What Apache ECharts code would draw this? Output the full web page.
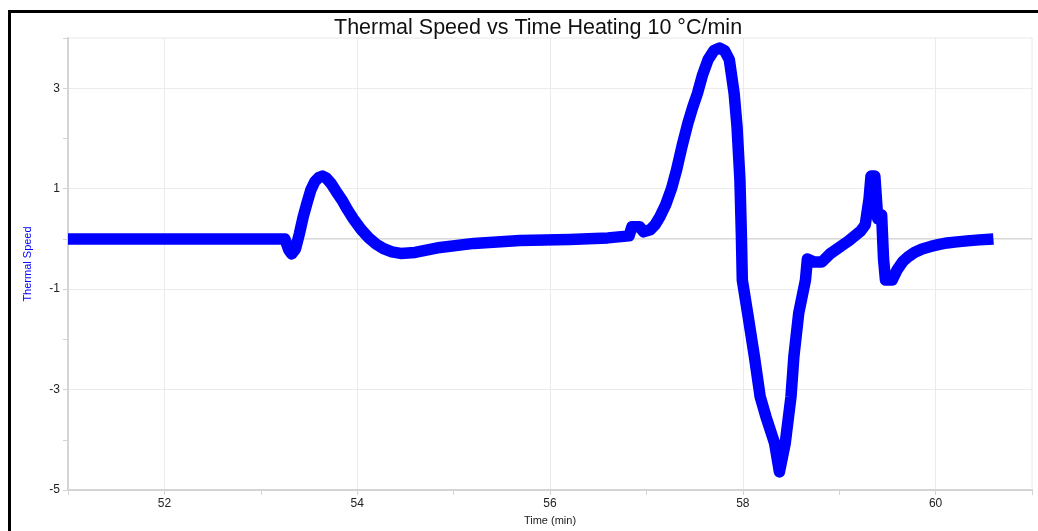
<!DOCTYPE html>
<html>
<head>
<meta charset="utf-8">
<title>Thermal Speed vs Time</title>
<script src="https://cdn.jsdelivr.net/npm/echarts@6/dist/echarts.min.js"></script>
<style>
  html, body { margin: 0; padding: 0; background: #ffffff; }
  #chart { width: 1038px; height: 531px; }
</style>
</head>
<body>
<div id="chart"></div>
<script>
// Time in minutes
const time = [
  51.00, 52.00, 53.00, 53.25, 53.29, 53.32, 53.36, 53.40, 53.44, 53.48,
  53.52, 53.56, 53.60, 53.64, 53.68, 53.73, 53.78, 53.84, 53.90, 53.96,
  54.04, 54.12, 54.20, 54.28, 54.36, 54.45, 54.60, 54.86, 55.21, 55.69,
  56.20, 56.60, 56.82, 56.85, 56.93, 56.97, 57.04, 57.09, 57.14, 57.20,
  57.26, 57.31, 57.37, 57.43, 57.48, 57.53, 57.58, 57.64, 57.70, 57.76,
  57.81, 57.86, 57.91, 57.94, 57.97, 57.985, 57.995, 58.05, 58.12, 58.18,
  58.24, 58.33, 58.38, 58.44, 58.50, 58.53, 58.58, 58.65, 58.67, 58.74,
  58.82, 58.91, 59.09, 59.22, 59.27, 59.31, 59.33, 59.37, 59.40, 59.44,
  59.46, 59.48, 59.55, 59.60, 59.66, 59.72, 59.78, 59.86, 59.95, 60.04,
  60.12, 60.22, 60.33, 60.45, 60.60
];

// Thermal speed readings
const thermalSpeed = [
   0.00,  0.00,  0.00,  0.00, -0.22, -0.30, -0.20,  0.10,  0.44,  0.72,
   0.98,  1.14,  1.22,  1.25,  1.21,  1.10,  0.95,  0.78,  0.58,  0.40,
   0.19,  0.02, -0.11, -0.20, -0.26, -0.29, -0.27, -0.17, -0.09, -0.03,
  -0.01,  0.02,  0.06,  0.24,  0.24,  0.14,  0.18,  0.28,  0.44,  0.68,
   1.00,  1.35,  1.85,  2.30,  2.62,  2.90,  3.25,  3.57,  3.75,  3.80,
   3.75,  3.57,  2.90,  2.24,  1.18,  0.10, -0.82, -1.48, -2.34, -3.14,
  -3.54, -4.07, -4.64, -4.07, -3.14, -2.34, -1.48, -0.82, -0.40, -0.46,
  -0.46, -0.29, -0.05,  0.15,  0.28,  0.80,  1.25,  1.25,  0.40,  0.48,
  -0.40, -0.82, -0.82, -0.62, -0.45, -0.35, -0.27, -0.20, -0.15, -0.11,
  -0.08, -0.06, -0.04, -0.02,  0.00
];

// Axis ranges and labelled ticks
const timeRange = [51, 61];
const speedRange = [-5, 4];
const timeTickLabels = [52, 54, 56, 58, 60];
const speedTickLabels = [-5, -3, -1, 1, 3];
const zeroLine = [[51, 0], [61, 0]];

const FONT = '"Liberation Sans", Arial, Helvetica, sans-serif';
const chart = echarts.init(document.getElementById('chart'), null, { renderer: 'canvas' });

chart.setOption({
  backgroundColor: '#ffffff',
  animation: false,
  title: {
    text: 'Thermal Speed vs Time Heating 10 °C/min',
    left: 329,
    top: 12,
    textStyle: { fontFamily: FONT, fontSize: 21.5, fontWeight: 'normal', color: '#111111' }
  },
  grid: {
    left: 68, right: 6, top: 38, bottom: 41,
    show: true, borderColor: '#e8e8e8', borderWidth: 1
  },
  xAxis: {
    type: 'value',
    min: timeRange[0], max: timeRange[1], interval: 1,
    name: 'Time (min)',
    nameLocation: 'middle',
    nameGap: 25,
    nameTextStyle: { fontFamily: FONT, fontSize: 11, color: '#222222' },
    axisLine: { onZero: false, lineStyle: { color: '#d4d4d4', width: 2 } },
    axisTick: { show: true, length: 5, lineStyle: { color: '#d4d4d4' } },
    axisLabel: {
      fontFamily: FONT, fontSize: 12, color: '#222222', margin: 8,
      formatter: v => (timeTickLabels.includes(v) ? String(v) : '')
    },
    splitLine: { show: true, lineStyle: { color: ['rgba(0,0,0,0)', '#ebebeb'], width: 1 } }
  },
  yAxis: {
    type: 'value',
    min: speedRange[0], max: speedRange[1], interval: 1,
    name: 'Thermal Speed',
    nameLocation: 'middle',
    nameGap: 35,
    nameTextStyle: { fontFamily: FONT, fontSize: 11, color: '#0000ff' },
    axisLine: { show: true, lineStyle: { color: '#d4d4d4', width: 2 } },
    axisTick: { show: true, length: 5, lineStyle: { color: '#d4d4d4' } },
    axisLabel: {
      fontFamily: FONT, fontSize: 12, color: '#222222', margin: 8,
      formatter: v => (speedTickLabels.includes(v) ? String(v) : '')
    },
    splitLine: { show: true, lineStyle: { color: ['#ebebeb', 'rgba(0,0,0,0)'], width: 1 } }
  },
  graphic: [{
    type: 'rect',
    silent: true,
    shape: { x: 9.5, y: 11.5, width: 1100, height: 600 },
    style: { fill: 'none', stroke: '#000000', lineWidth: 3 },
    z: 100
  }],
  series: [
    {
      // zero reference line
      type: 'line',
      data: zeroLine,
      symbol: 'none',
      silent: true,
      z: 1,
      lineStyle: { color: '#c4c4c4', width: 1 }
    },
    {
      name: 'Thermal Speed',
      type: 'line',
      data: time.map((t, i) => [t, thermalSpeed[i]]),
      symbol: 'none',
      z: 3,
      lineStyle: { color: '#0000ff', width: 11.5, cap: 'butt', join: 'round' }
    }
  ]
});
</script>
</body>
</html>
